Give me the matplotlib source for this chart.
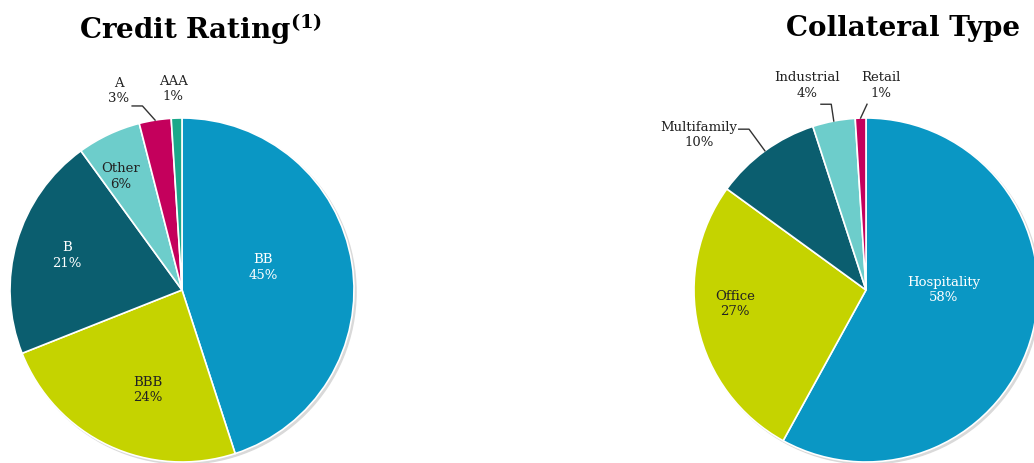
import numpy as np
import matplotlib.pyplot as plt
from matplotlib.patches import Circle

# --- data ---
credit_labels = ["BB", "BBB", "B", "Other", "A", "AAA"]
credit_values = [45, 24, 21, 6, 3, 1]
credit_colors = ["#0A97C4", "#C5D300", "#0B5E6F", "#6DCDCB", "#C4005C", "#1BA88A"]

coll_labels = ["Hospitality", "Office", "Multifamily", "Industrial", "Retail"]
coll_values = [58, 27, 10, 4, 1]
coll_colors = ["#0A97C4", "#C5D300", "#0B5E6F", "#6DCDCB", "#C4005C"]

# label placement (pie units) and text colour, per slice
credit_text_pos = [(0.47, 0.13), (-0.20, -0.58), (-0.67, 0.20), (-0.355, 0.66), (-0.366, 1.157), (-0.052, 1.17)]
credit_text_col = ["white", "#222222", "white", "#222222", "#222222", "#222222"]
credit_leader = [None, None, None, None, (-0.29, 1.07), None]

coll_text_pos = [(0.45, 0.0), (-0.76, -0.08), (-0.97, 0.90), (-0.34, 1.19), (0.087, 1.19)]
coll_text_col = ["white", "#222222", "#222222", "#222222", "#222222"]
coll_leader = [None, None, (-0.74, 0.935), (-0.262, 1.08), (0.006, 1.08)]

W, H = 1034, 463
R_PX = 172
PAD = 1.3

fig = plt.figure(figsize=(W / 100, H / 100), dpi=100)


def pie_axes(cx, cy):
    # axes placed so the unit pie lands at pixel centre (cx, cy) with radius R_PX
    half = PAD * R_PX
    return fig.add_axes([(cx - half) / W, (H - cy - half) / H, 2 * half / W, 2 * half / H])


def draw_pie(ax, values, colors, labels, text_pos, text_col, leaders):
    ax.add_patch(Circle((0.012, -0.012), 1.0, color="#d9d9d9", zorder=0))
    wedges, _ = ax.pie(values, colors=colors, startangle=90, counterclock=False,
                       radius=1.0, wedgeprops=dict(edgecolor="white", linewidth=1.2))
    ax.set_xlim(-PAD, PAD)
    ax.set_ylim(-PAD, PAD)
    ax.set_aspect("equal")
    total = float(sum(values))
    start = 90.0
    for v, lab, pos, col, lead in zip(values, labels, text_pos, text_col, leaders):
        frac = v / total
        mid = np.deg2rad(start - 180.0 * frac)
        start -= 360.0 * frac
        ax.text(pos[0], pos[1], f"{lab}\n{v}%", ha="center", va="center",
                fontsize=9.5, color=col, family="DejaVu Serif", linespacing=1.25)
        if lead is not None:
            ex, ey = np.cos(mid), np.sin(mid)
            ax.plot([lead[0], lead[0] + 0.06 if ex > lead[0] + 0.06 else lead[0], ex],
                    [lead[1], lead[1], ey], color="#333333", lw=1.0, clip_on=False)


ax1 = pie_axes(182, 290)
draw_pie(ax1, credit_values, credit_colors, credit_labels, credit_text_pos, credit_text_col, credit_leader)

ax2 = pie_axes(866, 290)
draw_pie(ax2, coll_values, coll_colors, coll_labels, coll_text_pos, coll_text_col, coll_leader)

plt.rcParams["mathtext.fontset"] = "dejavuserif"
fig.text(200 / W, 1 - 29 / H, r"Credit Rating$^{\mathbf{(1)}}$", ha="center", va="center",
         fontsize=20, fontweight="bold", family="DejaVu Serif")
fig.text(903 / W, 1 - 29 / H, "Collateral Type", ha="center", va="center",
         fontsize=20, fontweight="bold", family="DejaVu Serif")

fig.savefig("out.png", dpi=100)
